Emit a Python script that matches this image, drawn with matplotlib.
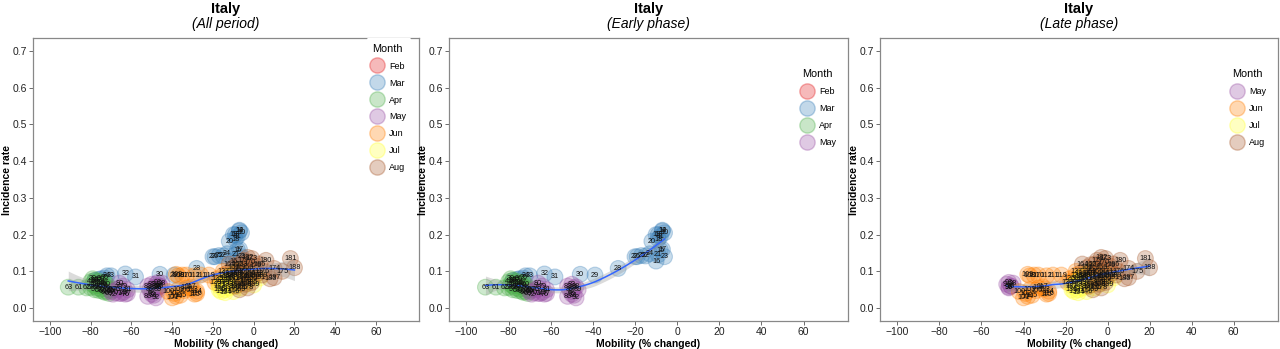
import numpy as np
import matplotlib
matplotlib.use("Agg")
from matplotlib import pyplot as plt
from matplotlib.lines import Line2D

plt.rcParams['font.family'] = ['Liberation Sans', 'DejaVu Sans']

MONTHS = ["Feb", "Mar", "Apr", "May", "Jun", "Jul", "Aug"]
MONTH_START = [1, 8, 39, 69, 100, 130, 161]   # day index where each month begins
MONTH_COLORS = ["#E41A1C", "#377EB8", "#4DAF4A", "#984EA3", "#FF7F00", "#FFFF33", "#A65628"]

# day index (day 1 = 23 Feb 2020), mobility (% changed), incidence rate
mar_day = list(range(10, 39))
mar_mob = [-6, -8, -7, -9, -7, -8, -10, -7, -9, -10, -12, -9, -15, -6, -13, -17, -19, -20,
           -28, -39, -46, -58, -63, -70, -72, -73, -75, -76, -78]
mar_inc = [0.205, 0.195, 0.21, 0.20, 0.212, 0.158, 0.128, 0.16, 0.188, 0.20, 0.182, 0.145,
           0.142, 0.14, 0.148, 0.143, 0.14, 0.14, 0.108, 0.09, 0.092, 0.085, 0.093, 0.088,
           0.088, 0.082, 0.08, 0.078, 0.075]

apr_day = list(range(39, 69))
apr_mob = [-79, -78, -80, -77, -76, -75, -79, -74, -73, -76, -78, -72, -74, -80, -77, -73,
           -75, -72, -78, -76, -71, -74, -86, -82, -91, -72, -70, -73, -69, -71]
apr_inc = [0.08, 0.076, 0.072, 0.07, 0.074, 0.068, 0.065, 0.066, 0.07, 0.062, 0.06, 0.064,
           0.058, 0.056, 0.055, 0.06, 0.052, 0.055, 0.05, 0.048, 0.05, 0.046, 0.057, 0.055,
           0.057, 0.045, 0.048, 0.043, 0.052, 0.04]

may_day = list(range(69, 100))
may_mob = [-70, -68, -66, -69, -64, -65, -67, -63, -62, -66, -64, -66, -62, -52, -50, -49,
           -51, -52, -50, -48, -47, -50, -49, -48, -47, -48, -46, -47, -46, -45, -47]
may_inc = [0.045, 0.042, 0.04, 0.038, 0.043, 0.04, 0.05, 0.038, 0.04, 0.055, 0.06, 0.068,
           0.05, 0.06, 0.065, 0.055, 0.05, 0.032, 0.045, 0.058, 0.05, 0.038, 0.035, 0.028,
           0.07, 0.065, 0.06, 0.055, 0.06, 0.068, 0.057]

jun_day = list(range(100, 130))
jun_mob = [-42, -40, -39, -37, -38, -36, -34, -35, -37, -38, -33, -26, -29, -30, -28, -29,
           -28, -31, -33, -22, -19, -17, -16, -15, -14, -18, -13, -15, -12, -11]
jun_inc = [0.045, 0.028, 0.04, 0.05, 0.032, 0.035, 0.048, 0.09, 0.088, 0.092, 0.09, 0.09,
           0.088, 0.052, 0.046, 0.038, 0.04, 0.058, 0.055, 0.09, 0.07, 0.065, 0.075, 0.09,
           0.08, 0.08, 0.095, 0.1, 0.085, 0.09]

jul_day = list(range(130, 161))
jul_mob = [-16, -14, -17, -13, -14, -12, -17, -11, -9, 0, -15, -10, -12, -8, -13, -7, -10,
           -6, -11, -9, -4, 3, -5, -8, -3, -6, -2, -7, -4, 1, -1]
jul_inc = [0.045, 0.05, 0.06, 0.065, 0.042, 0.055, 0.05, 0.07, 0.06, 0.063, 0.07, 0.08,
           0.075, 0.072, 0.085, 0.065, 0.045, 0.08, 0.09, 0.095, 0.075, 0.082, 0.09, 0.1,
           0.085, 0.055, 0.095, 0.105, 0.07, 0.09, 0.08]

aug_day = list(range(161, 192))
aug_mob = [-10, -8, -6, -12, -5, -3, -9, -4, -7, -2, 0, 2, -1, 10, 14, 5, -5, -3, 1, 6, 18,
           -3, 8, -6, -1, 3, 10, 20, 4, -2, -8]
aug_inc = [0.11, 0.118, 0.12, 0.12, 0.1, 0.11, 0.06, 0.065, 0.05, 0.125, 0.1, 0.095, 0.135,
           0.108, 0.1, 0.1, 0.13, 0.055, 0.115, 0.13, 0.135, 0.138, 0.08, 0.085, 0.07, 0.12,
           0.083, 0.11, 0.09, 0.085, 0.095]

EARLY_LAST_DAY = 92
LATE_FIRST_DAY = 93

day = np.array(mar_day + apr_day + may_day + jun_day + jul_day + aug_day)
mob = np.array(mar_mob + apr_mob + may_mob + jun_mob + jul_mob + aug_mob, dtype=float)
inc = np.array(mar_inc + apr_inc + may_inc + jun_inc + jul_inc + aug_inc, dtype=float)
month_idx = np.searchsorted(MONTH_START, day, side="right") - 1


def loess(x, y, grid, span=0.75):
    n = len(x)
    k = int(np.ceil(span * n))
    fit = np.zeros(len(grid))
    lnorm = np.zeros(len(grid))
    for i, g in enumerate(grid):
        d = np.abs(x - g)
        h = np.sort(d)[k - 1]
        w = np.clip(1 - (d / h) ** 3, 0, None) ** 3
        X = np.column_stack([np.ones(n), x - g, (x - g) ** 2])
        W = X * w[:, None]
        L = np.linalg.solve(X.T @ W, W.T)[0]
        fit[i] = L @ y
        lnorm[i] = np.sqrt(np.sum(L ** 2))
    own = np.interp(x, grid, fit)
    sigma = np.sqrt(np.sum((y - own) ** 2) / (n - 5))
    return fit, 1.96 * sigma * lnorm


fig = plt.figure(figsize=(12.8, 3.49), dpi=100)
W, H = 1280, 349
TOP, BOT = 38, 321

panels = [
    ("(All period)", 33, 419, np.ones(len(day), bool), [0, 1, 2, 3, 4, 5, 6], 389, 108),
    ("(Early phase)", 449, 848, day <= EARLY_LAST_DAY, [0, 1, 2, 3], 819, 108),
    ("(Late phase)", 880, 1278, day >= LATE_FIRST_DAY, [3, 4, 5, 6], 1249, 108),
]

for sub, x0, x1, mask, leg_months, lcx, lcy in panels:
    ax = fig.add_axes([x0 / W, 1 - BOT / H, (x1 - x0) / W, (BOT - TOP) / H])
    xs, ys, ds, ms = mob[mask], inc[mask], day[mask], month_idx[mask]
    fc = [matplotlib.colors.to_rgba(MONTH_COLORS[m], 0.27) for m in ms]
    ec = [matplotlib.colors.to_rgba(MONTH_COLORS[m], 0.3) for m in ms]
    ax.scatter(xs, ys, s=130, c=fc, edgecolors=ec, linewidths=0.8, zorder=2)

    grid = np.linspace(xs.min(), xs.max(), 120)
    fit, band = loess(xs, ys, grid)
    ax.fill_between(grid, fit - band, fit + band, color="#999999", alpha=0.35, lw=0, zorder=3)
    ax.plot(grid, fit, color="#3366FF", lw=1.1, zorder=4)

    for xv, yv, dv in zip(xs, ys, ds):
        ax.text(xv, yv, str(dv), fontsize=5.2, ha="center", va="center", color="#111111", zorder=5)

    ax.set_xlim(-108.3, 81.1)
    ax.set_ylim(-0.035, 0.735)
    ax.set_xticks(np.arange(-100, 61, 20))
    ax.set_yticks(np.arange(0, 0.71, 0.1))
    ax.set_yticklabels([f"{v:.1f}" for v in np.arange(0, 0.71, 0.1)])
    ax.tick_params(labelsize=7.5, length=3, width=0.6, color="#555555", labelcolor="#222222", pad=1.5)
    for sp in ax.spines.values():
        sp.set_color("#888888")
        sp.set_linewidth(0.9)
    ax.set_xlabel("Mobility (% changed)", fontsize=7.5, fontweight="bold", labelpad=1)
    ax.set_ylabel("Incidence rate", fontsize=7.5, fontweight="bold")
    ax.yaxis.set_label_coords(-21 / (x1 - x0), 0.5)

    cx = (x0 + x1) / 2 / W
    fig.text(cx, 1 - 9 / H, "Italy", fontsize=10.5, fontweight="bold", ha="center", va="center")
    fig.text(cx, 1 - 24 / H, sub, fontsize=10, fontstyle="italic", ha="center", va="center")

    handles = [Line2D([], [], marker="o", ls="", markersize=11,
                      markerfacecolor=matplotlib.colors.to_rgba(MONTH_COLORS[m], 0.3),
                      markeredgecolor=matplotlib.colors.to_rgba(MONTH_COLORS[m], 0.35))
               for m in leg_months]
    leg = ax.legend(handles, [MONTHS[m] for m in leg_months], title="Month",
                    loc="center", bbox_to_anchor=(lcx / W, 1 - lcy / H),
                    bbox_transform=fig.transFigure, fontsize=6.5, title_fontsize=7.8,
                    frameon=True, framealpha=1, edgecolor="none", facecolor="white",
                    borderpad=0.6, labelspacing=0.88, handletextpad=0.7, handlelength=1.2,
                    borderaxespad=0)
    leg._legend_box.align = "left"

fig.savefig("out.png", dpi=100)
